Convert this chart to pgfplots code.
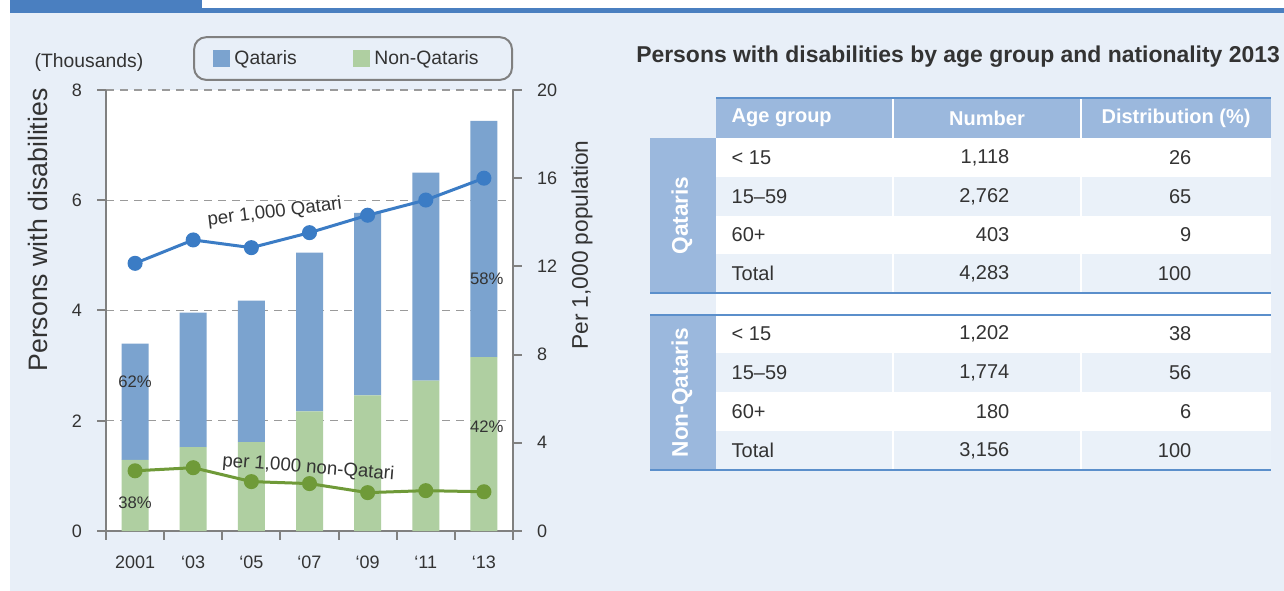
\documentclass[border=0pt]{standalone}
\usepackage{pgfplots}
\usepackage{pgfplotstable}
\pgfplotsset{compat=1.18}
\usepackage{fontspec}
\setmainfont{Liberation Sans}
\definecolor{bg}{HTML}{E8EFF8}
\definecolor{banner}{HTML}{4A7FC0}
\definecolor{qbar}{HTML}{7BA3CF}
\definecolor{nbar}{HTML}{AFCFA1}
\definecolor{qline}{HTML}{3B7CC5}
\definecolor{nline}{HTML}{6F9A38}
\definecolor{axgray}{HTML}{808080}
\definecolor{txt}{HTML}{333333}
\definecolor{hdr}{HTML}{9BB8DD}
\definecolor{rowlt}{HTML}{EAF1F9}
\definecolor{tline}{HTML}{5B8FCB}
\newcommand{\fs}[1]{\fontsize{#1}{#1}\selectfont}

% persons with disabilities, thousands
\pgfplotstableread{
x non qat
0 1.29 2.11
1 1.52 2.44
2 1.61 2.57
3 2.17 2.88
4 2.46 3.31
5 2.73 3.77
6 3.156 4.283
}\bars
% per 1,000 population
\pgfplotstableread{
x q n
0 12.14 2.73
1 13.20 2.87
2 12.85 2.24
3 13.53 2.15
4 14.32 1.74
5 15.01 1.83
6 16.00 1.78
}\rates

\begin{document}
\begin{tikzpicture}
\useasboundingbox (0pt,0pt) rectangle (963pt,-443.25pt);
\begin{scope}[x=0.75pt,y=-0.75pt]
\fill[white] (0,0) rectangle (1284,591);
\fill[bg] (10,13) rectangle (1284,591);
\fill[banner] (10,0) rectangle (202,13);
\fill[banner] (202,8) rectangle (1284,13);
\node[font=\fs{14.5}, text=txt] at (89,63) {(Thousands)};
\node[font=\fs{20}, text=txt, rotate=90] at (38,230) {Persons with disabilities};
\node[font=\fs{17}, text=txt, rotate=90] at (582,245) {Per 1,000 population};
\end{scope}

\begin{axis}[
  at={(79.5pt,-398.25pt)}, anchor=south west,
  scale only axis, width=305.25pt, height=330.75pt,
  axis background/.style={fill=white},
  ybar stacked, bar width=20.25pt,
  xmin=-0.5, xmax=6.5, ymin=0, ymax=8,
  axis y line*=left, axis x line*=bottom,
  axis line style={axgray, line width=1.5pt, -},
  tick style={axgray, line width=1.5pt},
  tick align=outside, major tick length=6.5pt,
  xtick={-0.5,0.5,...,6.5}, xticklabels={},
  extra x ticks={0,...,6},
  extra x tick labels={2001,‘03,‘05,‘07,‘09,‘11,‘13},
  extra x tick style={major tick length=0pt, grid=none},
  ytick={0,2,4,6,8},
  ymajorgrids, grid style={axgray!80, line width=1pt, dash pattern=on 6pt off 4.5pt},
  ticklabel style={font=\fs{13.5}, text=txt},
  /pgf/number format/assume math mode=true,
  yticklabel style={xshift=-8pt},
  xticklabel style={yshift=-15.5pt},
  legend columns=2, reverse legend,
  legend style={at={(1,1.122)}, anchor=north east, draw=axgray, line width=1.5pt,
    rounded corners=9pt, fill=bg, font=\fs{14.5}, text=txt,
    inner xsep=14pt, inner ysep=8pt,
    /tikz/every even column/.append style={column sep=40pt}},
  legend image code/.code={\fill[#1, sharp corners] (0pt,-6.4pt) rectangle (12.75pt,6.4pt);},
]
\addplot[fill=nbar, draw=none] table[x=x, y=non] {\bars};
\addplot[fill=qbar, draw=none] table[x=x, y=qat] {\bars};
\addlegendentry{\hspace{1.5pt}Non-Qataris\hspace*{9pt}}
\addlegendentry{\hspace{1.5pt}Qataris}
\end{axis}

\begin{axis}[
  at={(79.5pt,-398.25pt)}, anchor=south west,
  scale only axis, width=305.25pt, height=330.75pt,
  xmin=-0.5, xmax=6.5, ymin=0, ymax=20,
  axis y line*=right, axis x line=none,
  axis line style={axgray, line width=1.5pt, -},
  tick style={axgray, line width=1.5pt},
  tick align=outside, major tick length=6.5pt,
  ytick={0,4,...,20},
  ticklabel style={font=\fs{13.5}, text=txt},
  /pgf/number format/assume math mode=true,
  yticklabel style={xshift=8pt},
]
\addplot[qline, line width=2.25pt, mark=*, mark size=4.5pt] table[x=x, y=q] {\rates};
\addplot[nline, line width=2.25pt, mark=*, mark size=4.5pt] table[x=x, y=n] {\rates};
\node[font=\fs{14}, text=txt, rotate=7] at (axis cs:2.40,14.45) {per 1,000 Qatari};
\node[font=\fs{14}, text=txt, rotate=-4.5] at (axis cs:2.98,2.85) {per 1,000 non-Qatari};
% shares of each year's total (left scale x 2.5)
\node[font=\fs{12.5}, text=txt] at (axis cs:0,6.75) {62\%};
\node[font=\fs{12.5}, text=txt] at (axis cs:0,1.30) {38\%};
\node[font=\fs{12.5}, text=txt] at (axis cs:6.05,11.45) {58\%};
\node[font=\fs{12.5}, text=txt] at (axis cs:6.05,4.75) {42\%};
\end{axis}

\begin{scope}[x=0.75pt,y=-0.75pt]
\node[font=\fs{17.2}\bfseries, text=txt, anchor=west, inner sep=0pt] at (636,57) {Persons with disabilities by age group and nationality 2013};
% header
\fill[hdr] (716,98) rectangle (1271,138);
\draw[white, line width=1.2pt] (893,98)--(893,138) (1081,98)--(1081,138);
\draw[tline, line width=1.2pt] (716,98)--(1271,98);
\node[font=\fs{15}\bfseries, text=white, anchor=west] at (727,118) {Age group};
\node[font=\fs{15}\bfseries, text=white] at (987,118) {Number};
\node[font=\fs{15}\bfseries, text=white] at (1176,118) {Distribution (\%)};
% Qataris block
\fill[white] (716,138) rectangle (1271,293);
\fill[rowlt] (716,177) rectangle (1271,216);
\fill[rowlt] (716,254) rectangle (1271,293);
\draw[white, line width=1.2pt] (893,177)--(893,216) (1081,177)--(1081,216) (893,254)--(893,293) (1081,254)--(1081,293);
\fill[hdr] (650,138) rectangle (716,293);
\draw[tline, line width=1.2pt] (650,293)--(1271,293);
\node[font=\fs{17}\bfseries, text=white, rotate=90] at (682,215.5) {Qataris};
% gap
\fill[white] (716,294) rectangle (1271,314);
% Non-Qataris block
\fill[white] (716,315) rectangle (1271,470);
\fill[rowlt] (716,353) rectangle (1271,392);
\fill[rowlt] (716,431) rectangle (1271,470);
\draw[white, line width=1.2pt] (893,353)--(893,392) (1081,353)--(1081,392) (893,431)--(893,470) (1081,431)--(1081,470);
\fill[hdr] (650,315) rectangle (716,470);
\draw[tline, line width=1.2pt] (650,315)--(1271,315);
\draw[tline, line width=1.2pt] (650,470)--(1271,470);
\node[font=\fs{17}\bfseries, text=white, rotate=90] at (682,392.5) {Non-Qataris};
% cells
\foreach \y/\a/\b/\c in {157.5/{< 15}/{1,118}/26, 196.5/{15–59}/{2,762}/65, 235/{60+}/{403}/9, 273.5/{Total}/{4,283}/100,
  334/{< 15}/{1,202}/38, 372.5/{15–59}/{1,774}/56, 411.5/{60+}/{180}/6, 450.5/{Total}/{3,156}/100} {
  \node[font=\fs{15}, text=txt, anchor=west] at (727,\y) {\a};
  \node[font=\fs{15}, text=txt, anchor=east] at (1014,\y) {\b};
  \node[font=\fs{15}, text=txt, anchor=east] at (1196,\y) {\c};
}
\end{scope}
\end{tikzpicture}
\end{document}
